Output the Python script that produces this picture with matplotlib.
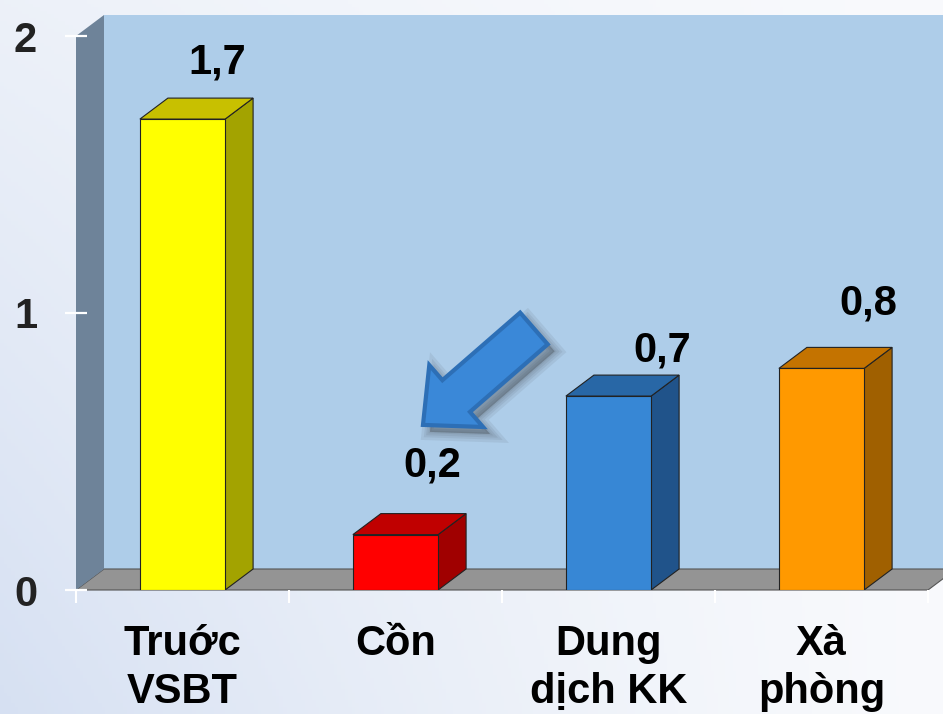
import numpy as np
import matplotlib
matplotlib.use("Agg")
import matplotlib.pyplot as plt
from matplotlib.patches import Polygon, Rectangle
from matplotlib.transforms import Affine2D

plt.rcParams['font.family'] = ['Liberation Sans', 'DejaVu Sans']

# data
categories = ['Truớc\nVSBT', 'Cồn', 'Dung\ndịch KK', 'Xà\nphòng']
values = [1.7, 0.2, 0.7, 0.8]
value_labels = ['1,7', '0,2', '0,7', '0,8']
y_ticks = [0, 1, 2]

# colours for front / top / side faces of each bar
front_colors = ['#ffff00', '#ff0000', '#3787d5', '#ff9900']
top_colors = ['#c8c000', '#c00000', '#2867a6', '#c47300']
side_colors = ['#a3a300', '#a00000', '#20538a', '#a06000']

# where each value label sits relative to its bar top (pixels right, up)
label_nudge = [(35, 46), (37, 58), (54, 35), (47, 54)]

W, H = 943, 714
fig = plt.figure(figsize=(W / 100, H / 100), dpi=100)

# soft slide background
bg = fig.add_axes([0, 0, 1, 1], zorder=-10)
yy, xx = np.mgrid[0:1:200j, 0:1:260j]
tint = np.clip(1.0 * (1 - xx) ** 1.3 * (0.35 + 0.65 * yy), 0, 1)[..., None]
white = np.array([0.975, 0.98, 0.99])
blue = np.array([0.84, 0.88, 0.95])
bg.imshow(white * (1 - tint) + blue * tint, aspect='auto', extent=[0, 1, 0, 1])
bg.axis('off')

ax = fig.add_axes([76 / W, 124 / H, 852 / W, 554 / H])
ax.set_xlim(0, 4)
ax.set_ylim(0, 2)
ax.patch.set_visible(False)
for s in ax.spines.values():
    s.set_visible(False)

# depth of the fake 3d box, in data units
dx = 28 / (852 / 4)
dy = 21 / (554 / 2)

# walls and floor
ax.add_patch(Rectangle((dx, dy), 4, 2, fc='#aecde9', ec='none', clip_on=False, zorder=0.5))
ax.add_patch(Polygon([(0, 0), (4, 0), (4 + dx, dy), (dx, dy)], closed=True,
                     fc='#949494', ec='#555555', lw=0.8, clip_on=False, zorder=0.6))
ax.add_patch(Polygon([(0, 0), (dx, dy), (dx, 2 + dy), (0, 2)], closed=True,
                     fc='#6e8399', ec='none', clip_on=False, zorder=0.7))

# bars
w = 0.4
for i, v in enumerate(values):
    x0 = i + 0.5 - w / 2
    side = [(x0 + w, 0), (x0 + w + dx, dy), (x0 + w + dx, v + dy), (x0 + w, v)]
    top = [(x0, v), (x0 + w, v), (x0 + w + dx, v + dy), (x0 + dx, v + dy)]
    ax.add_patch(Polygon(side, closed=True, fc=side_colors[i], ec='#222222', lw=0.8, zorder=2))
    ax.add_patch(Polygon(top, closed=True, fc=top_colors[i], ec='#222222', lw=0.8, zorder=2))
    ax.add_patch(Rectangle((x0, 0), w, v, fc=front_colors[i], ec='#222222', lw=0.8, zorder=2.1))
    nx, ny = label_nudge[i]
    ax.annotate(value_labels[i], xy=(i + 0.5, v), xytext=(nx * 0.72, ny * 0.72),
                textcoords='offset points', ha='center', va='baseline',
                fontsize=30, fontweight='bold', color='black')

# category labels, one text per line so baselines line up
for i, cat in enumerate(categories):
    for j, line in enumerate(cat.split('\n')):
        ax.annotate(line, xy=(i + 0.5, 0), xytext=(0, -(65 + 48 * j) * 0.72),
                    textcoords='offset points', ha='center', va='baseline',
                    fontsize=30, fontweight='bold', color='black', annotation_clip=False)

# ticks
ax.set_yticks(y_ticks)
ax.set_yticklabels([str(t) for t in y_ticks])
ax.tick_params(axis='y', direction='inout', length=16, width=1.6, color='white',
               labelsize=30, labelcolor='#222222', pad=20)
for t in ax.get_yticklabels():
    t.set_fontweight('bold')
ax.set_xticks(range(5))
ax.set_xticklabels([])
ax.tick_params(axis='x', direction='out', length=9, width=1.5, color='white')

# block arrow pointing at the alcohol bar
fig.canvas.draw()
tip = ax.transData.transform((1.629, 0.596))
shape = [(0, 0), (44, 41), (44, 21), (147, 21), (147, -21), (44, -21), (44, -41)]
base = Affine2D().rotate_deg(41).translate(tip[0], tip[1])
for lw in [12, 8, 5, 2]:
    ax.add_patch(Polygon(shape, closed=True, fc='#222222', ec='#222222', lw=lw, alpha=0.07,
                         transform=base + Affine2D().translate(7, -7), clip_on=False, zorder=4))
ax.add_patch(Polygon(shape, closed=True, fc='#3a88d8', ec='#2d6fb6', lw=3, joinstyle='miter',
                     transform=base, clip_on=False, zorder=5))

fig.savefig('out.png', dpi=100)
